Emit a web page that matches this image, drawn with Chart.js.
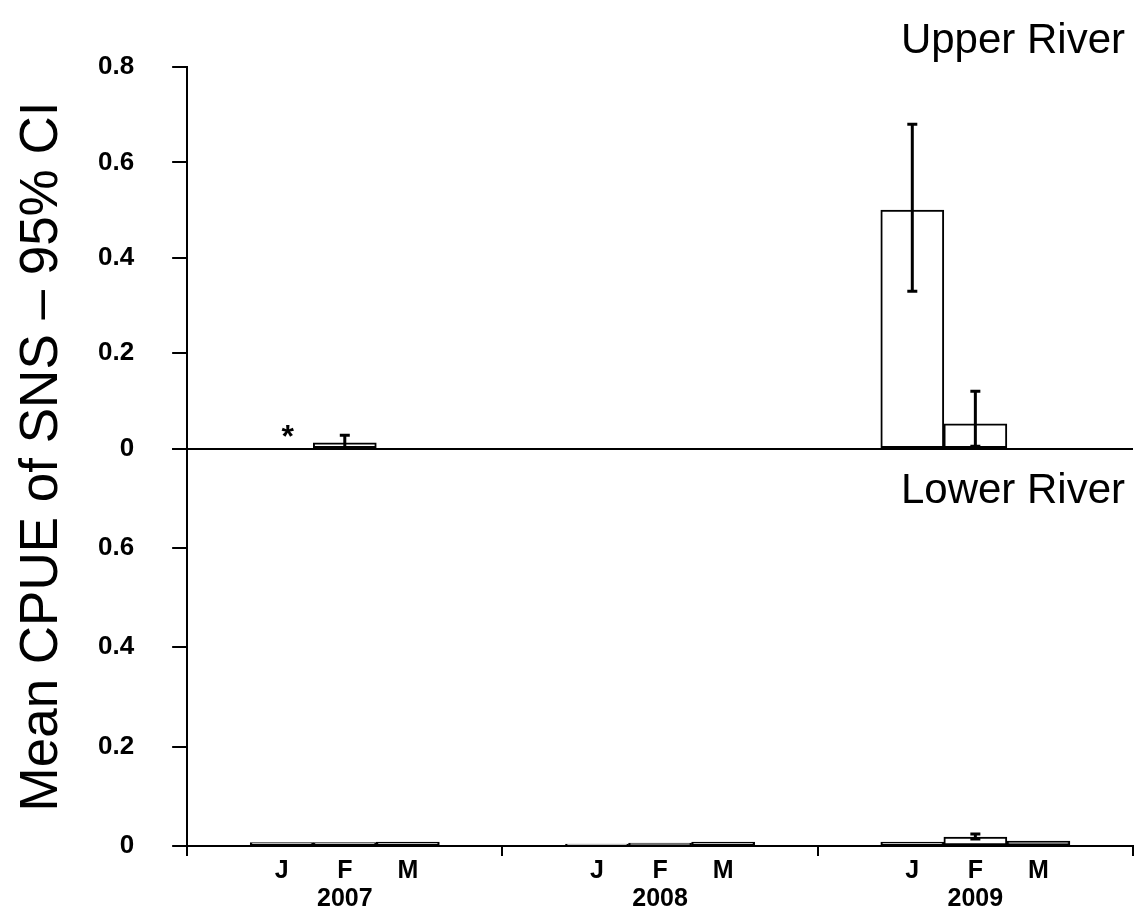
<!DOCTYPE html>
<html>
<head>
<meta charset="utf-8">
<script src="https://cdn.jsdelivr.net/npm/chart.js@4.4.0/dist/chart.umd.min.js"></script>
<style>
  html, body { margin: 0; padding: 0; background: #fff; }
</style>
</head>
<body>
<canvas id="myChart" width="1135" height="914"></canvas>
<script>
// data, J F M for each year
const years = ["2007", "2008", "2009"];
const months = ["J", "F", "M"];
const upperMean = [null, 0.012, 0, 0, 0, 0, 0.5, 0.052, 0];
const upperLow = [null, 0, null, null, null, null, 0.33, 0.005, null];
const upperHigh = [null, 0.028, null, null, null, null, 0.68, 0.12, null];
const lowerMean = [0.007, 0.007, 0.008, 0.004, 0.006, 0.008, 0.008, 0.018, 0.01];
const lowerLow = [null, null, null, null, null, null, null, 0.014, null];
const lowerHigh = [null, null, null, null, null, null, null, 0.024, null];
const notSampled = [true, false, false, false, false, false, false, false, false]; // the "*"
const yTicks = [0, 0.2, 0.4, 0.6, 0.8];
const yTitle = "Mean CPUE of SNS \u2013 95% CI";

const FONT = "'Liberation Sans', Arial, sans-serif";

// each year gets an empty slot either side of J F M
function spread(arr) {
  const out = [];
  years.forEach((y, k) => {
    out.push(null);
    for (let m = 0; m < months.length; m++) out.push(arr[k * 3 + m]);
    out.push(null);
  });
  return out;
}
const labels = [];
years.forEach((y) => {
  labels.push("");
  labels.push(months[0]);
  labels.push([months[1], y]);
  labels.push(months[2]);
  labels.push("");
});

const extras = {
  id: "extras",
  afterDatasetsDraw(chart) {
    const ctx = chart.ctx;
    ctx.save();
    ctx.strokeStyle = "#000";
    chart.data.datasets.forEach((ds, di) => {
      const meta = chart.getDatasetMeta(di);
      const ys = chart.scales[ds.yAxisID];
      ds.ciLow.forEach((lo, i) => {
        const hi = ds.ciHigh[i];
        if (lo == null || hi == null) return;
        const x = meta.data[i].x;
        const y1 = ys.getPixelForValue(lo);
        const y2 = ys.getPixelForValue(hi);
        ctx.lineWidth = 3;
        ctx.beginPath();
        ctx.moveTo(x, y1); ctx.lineTo(x, y2);
        ctx.moveTo(x - 5, y1); ctx.lineTo(x + 5, y1);
        ctx.moveTo(x - 5, y2); ctx.lineTo(x + 5, y2);
        ctx.stroke();
      });
    });
    // asterisk for months not sampled
    const xs = chart.scales.x, yU = chart.scales.yU;
    ctx.fillStyle = "#000";
    ctx.font = "bold 32px " + FONT;
    ctx.textAlign = "center";
    spread(notSampled).forEach((flag, i) => {
      if (!flag) return;
      ctx.fillText("*", xs.getPixelForValue(i) + 6, yU.getPixelForValue(0) - 2);
    });
    ctx.restore();
  },
  afterDraw(chart) {
    const ctx = chart.ctx;
    const a = chart.chartArea;
    ctx.save();
    ctx.fillStyle = "#000";
    ctx.font = "42px " + FONT;
    ctx.textAlign = "right";
    ctx.textBaseline = "alphabetic";
    ctx.fillText("Upper River", a.right - 8, chart.scales.yU.top - 14);
    ctx.fillText("Lower River", a.right - 8, chart.scales.yL.top + 54);
    ctx.translate(42, (a.top + a.bottom) / 2);
    ctx.rotate(-Math.PI / 2);
    ctx.textAlign = "center";
    ctx.textBaseline = "middle";
    ctx.font = "53px " + FONT;
    ctx.fillText(yTitle, 0, 0);
    ctx.restore();
  }
};

function yAxis(hideTop, weight) {
  return {
    type: "linear",
    position: "left",
    stack: "panels",
    stackWeight: weight,
    min: 0,
    max: 0.8,
    afterBuildTicks: (s) => { s.ticks = yTicks.map((v) => ({ value: v })); },
    ticks: {
      color: "#000",
      padding: 38,
      font: { family: FONT, size: 26, weight: "bold" },
      callback: (v) => (v === 0 ? "0" : (hideTop && v === 0.8 ? "" : v.toFixed(1)))
    },
    grid: {
      drawOnChartArea: true,
      tickLength: 15,
      color: (c) => (c.tick && c.tick.value === 0 ? "#000" : "rgba(0,0,0,0)"),
      tickColor: "#000",
      lineWidth: 2
    },
    border: { color: "#000", width: 2 }
  };
}

const barStyle = {
  grouped: false,
  barPercentage: 1,
  categoryPercentage: 1,
  backgroundColor: "#fff",
  borderColor: "#000",
  borderWidth: 2,
  borderSkipped: false
};

var ctx = document.getElementById("myChart").getContext("2d");
var chart = new Chart(ctx, {
  type: "bar",
  data: {
    labels: labels,
    datasets: [
      Object.assign({
        label: "Upper River",
        yAxisID: "yU",
        data: spread(upperMean),
        ciLow: spread(upperLow),
        ciHigh: spread(upperHigh)
      }, barStyle),
      Object.assign({
        label: "Lower River",
        yAxisID: "yL",
        data: spread(lowerMean),
        ciLow: spread(lowerLow),
        ciHigh: spread(lowerHigh)
      }, barStyle)
    ]
  },
  options: {
    responsive: false,
    animation: false,
    devicePixelRatio: 1,
    layout: { padding: { left: 60, top: 67, right: 2, bottom: 0 } },
    plugins: {
      legend: { display: false },
      tooltip: { enabled: false },
      colors: { enabled: false }
    },
    scales: {
      x: {
        type: "category",
        ticks: {
          color: "#000",
          padding: 1,
          autoSkip: false,
          maxRotation: 0,
          font: { family: FONT, size: 25, weight: "bold", lineHeight: 1.12 }
        },
        grid: {
          offset: true,
          drawOnChartArea: false,
          tickLength: 10,
          lineWidth: 2,
          color: (c) => (c.index === undefined || c.index % 5 === 0 ? "#000" : "rgba(0,0,0,0)")
        },
        border: { color: "#000", width: 2 }
      },
      // stacked axes: the first one listed ends up at the bottom
      yL: yAxis(true, 1),
      yU: yAxis(false, 0.96)
    }
  },
  plugins: [extras]
});
</script>
</body>
</html>
